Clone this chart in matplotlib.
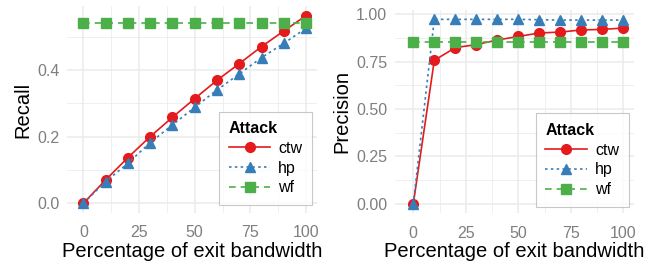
import matplotlib
matplotlib.use('Agg')
import matplotlib.pyplot as plt

plt.rcParams['font.family'] = ['Liberation Sans', 'DejaVu Sans']

W, H = 665, 266

pct = [0, 10, 20, 30, 40, 50, 60, 70, 80, 90, 100]

recall_ctw = [0.0, 0.07, 0.137, 0.2, 0.258, 0.314, 0.369, 0.419, 0.47, 0.517, 0.563]
recall_hp = [0.0, 0.065, 0.12, 0.182, 0.235, 0.288, 0.34, 0.388, 0.437, 0.48, 0.525]
recall_wf = [0.542] * 11

prec_ctw = [0.0, 0.756, 0.823, 0.839, 0.863, 0.882, 0.9, 0.905, 0.916, 0.919, 0.926]
prec_hp = [0.0, 0.972, 0.972, 0.972, 0.972, 0.972, 0.97, 0.968, 0.968, 0.968, 0.968]
prec_wf = [0.853] * 11

x_ticks = [0, 25, 50, 75, 100]
recall_ticks = [0.0, 0.2, 0.4]
recall_labels = ['0.0', '0.2', '0.4']
prec_ticks = [0.0, 0.25, 0.5, 0.75, 1.0]
prec_labels = ['0.00', '0.25', '0.50', '0.75', '1.00']

RED = '#E41A1C'
BLUE = '#377EB8'
GREEN = '#4DAF4A'
GRID = '#EBEBEB'
TICK = '#7F7F7F'


def px_axes(fig, x0, y0, x1, y1):
    return fig.add_axes([x0 / W, 1 - y1 / H, (x1 - x0) / W, (y1 - y0) / H])


def style(ax, xlim, yticks, ylabels, minor_y, ylim, ylabel):
    ax.set_xlim(*xlim)
    ax.set_ylim(*ylim)
    ax.set_xticks(x_ticks)
    ax.set_xticks([12.5, 37.5, 62.5, 87.5], minor=True)
    ax.set_yticks(yticks)
    ax.set_yticklabels(ylabels)
    ax.set_yticks(minor_y, minor=True)
    ax.grid(True, which='major', color=GRID, linewidth=1.1)
    ax.grid(True, which='minor', color=GRID, linewidth=0.55)
    ax.set_axisbelow(True)
    for s in ax.spines.values():
        s.set_visible(False)
    ax.tick_params(which='both', length=0, labelsize=11.5, colors=TICK)
    ax.tick_params(axis='x', pad=9)
    ax.tick_params(axis='y', pad=5.5)
    ax.set_xlabel('Percentage of exit bandwidth', fontsize=14.5, labelpad=1)
    ax.set_ylabel(ylabel, fontsize=14.5, labelpad=3.5)


def draw(ax, ctw, hp, wf, anchor):
    ax.plot(pct, ctw, color=RED, linestyle='-', linewidth=1.2, marker='o',
            markersize=7, label='ctw', zorder=3)
    ax.plot(pct, hp, color=BLUE, linestyle=(0, (1.5, 2)), linewidth=1.2, marker='^',
            markersize=7.5, label='hp', zorder=3)
    ax.plot(pct, wf, color=GREEN, linestyle=(0, (4, 3)), linewidth=1.2, marker='s',
            markersize=7, label='wf', zorder=3)
    leg = ax.legend(title='Attack', loc='lower right', fontsize=11.5, frameon=True,
                    fancybox=False, edgecolor='#BBBBBB', borderpad=0.6,
                    handlelength=2.6, labelspacing=0.3, handletextpad=0.5,
                    borderaxespad=0, bbox_to_anchor=anchor)
    leg.get_frame().set_linewidth(0.8)
    leg.get_title().set_fontweight('bold')
    leg.get_title().set_fontsize(11.5)
    leg._legend_box.align = 'left'


fig = plt.figure(figsize=(W / 100, H / 100), dpi=100)

ax1 = px_axes(fig, 67, 6.3, 317.2, 212.7)
style(ax1, (-7.33, 105), recall_ticks, recall_labels, [0.1, 0.3, 0.5],
      (-0.0282, 0.591), 'Recall')
draw(ax1, recall_ctw, recall_hp, recall_wf, (0.979, 0.037))

ax2 = px_axes(fig, 395, 10.1, 634, 213.2)
style(ax2, (-8.71, 105.1), prec_ticks, prec_labels, [0.125, 0.375, 0.625, 0.875],
      (-0.0486, 1.0206), 'Precision')
draw(ax2, prec_ctw, prec_hp, prec_wf, (0.977, 0.032))

fig.savefig('out.png', dpi=100)
